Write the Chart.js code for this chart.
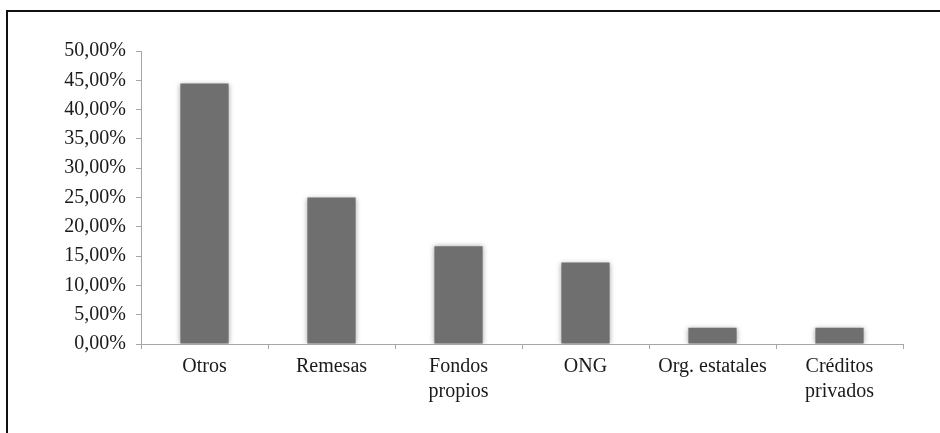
<!DOCTYPE html>
<html>
<head>
<meta charset="utf-8">
<script src="https://cdn.jsdelivr.net/npm/chart.js@4/dist/chart.umd.min.js"></script>
<style>
  body { margin: 0; background: #fff; }
  .frame {
    position: absolute; left: 6px; top: 10px; width: 960px; height: 460px;
    border-top: 2px solid #111; border-left: 2px solid #111;
  }
  canvas { position: absolute; left: 0; top: 0; }
</style>
</head>
<body>
<div class="frame"></div>
<canvas id="chart" width="940" height="433"></canvas>
<script>
// Categories and shares (%)
const categories = ['Otros', 'Remesas', ['Fondos', 'propios'], 'ONG', 'Org. estatales', ['Créditos', 'privados']];
const shares = [44.44, 25.0, 16.67, 13.89, 2.78, 2.78];
const yMin = 0;
const yMax = 50;
const yStep = 5;

// soft grey glow around bars
const glowPlugin = {
  id: 'glow',
  beforeDatasetsDraw(chart) {
    const ctx = chart.ctx;
    ctx.save();
    ctx.shadowColor = 'rgba(0,0,0,0.35)';
    ctx.shadowBlur = 5;
    ctx.shadowOffsetX = 0;
    ctx.shadowOffsetY = 0;
  },
  afterDatasetsDraw(chart) {
    chart.ctx.restore();
  }
};

const ctx = document.getElementById('chart').getContext('2d');
new Chart(ctx, {
  type: 'bar',
  data: {
    labels: categories,
    datasets: [{
      data: shares,
      backgroundColor: '#6f6f6f',
      borderWidth: 0,
      categoryPercentage: 1,
      barPercentage: 0.38,
    }],
  },
  options: {
    responsive: false,
    animation: false,
    layout: {
      padding: { top: 51, left: 0, right: 37, bottom: 0 },
    },
    plugins: {
      legend: { display: false },
      tooltip: { enabled: false },
    },
    scales: {
      x: {
        grid: { drawOnChartArea: false, tickLength: 5, color: '#a6a6a6' },
        border: { color: '#a6a6a6' },
        ticks: {
          color: '#1a1a1a',
          font: { family: 'Liberation Serif', size: 20, lineHeight: 1.25 },
          padding: 5,
          maxRotation: 0,
          autoSkip: false,
        },
        afterFit: (scale) => { scale.height = 89; },
      },
      y: {
        min: yMin,
        max: yMax,
        grid: { drawOnChartArea: false, tickLength: 5, color: '#a6a6a6' },
        border: { color: '#a6a6a6' },
        ticks: {
          stepSize: yStep,
          color: '#1a1a1a',
          font: { family: 'Liberation Serif', size: 20 },
          padding: 10,
          callback: (v) => v.toFixed(2).replace('.', ',') + '%',
        },
        afterFit: (scale) => { scale.width = 141; },
      },
    },
  },
  plugins: [glowPlugin],
});
</script>
</body>
</html>
